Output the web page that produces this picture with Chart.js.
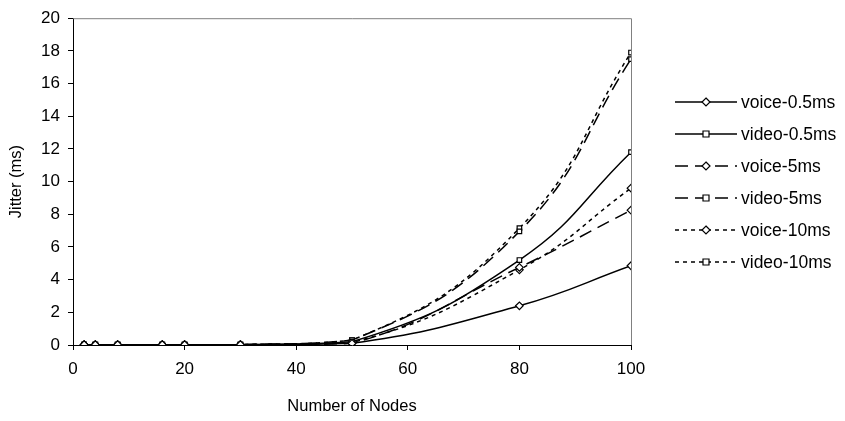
<!DOCTYPE html>
<html>
<head>
<meta charset="utf-8">
<script src="https://cdn.jsdelivr.net/npm/chart.js@4/dist/chart.umd.min.js"></script>
<style>
  html, body { margin: 0; padding: 0; background: #fff; }
  #wrap { width: 845px; height: 421px; }
</style>
</head>
<body>
<div id="wrap"><canvas id="c"></canvas></div>
<script>
// ── data ──────────────────────────────────────────────────────────────
const nodes     = [2, 4, 8, 16, 20, 30, 50, 80, 100];
const voice05   = [0.02, 0.02, 0.02, 0.02, 0.02, 0.02, 0.1, 2.4, 4.85];
const video05   = [0.02, 0.02, 0.02, 0.02, 0.02, 0.02, 0.2, 5.2, 11.8];
const voice5    = [0.02, 0.02, 0.02, 0.02, 0.02, 0.02, 0.1, 4.75, 8.25];
const video5    = [0.02, 0.02, 0.02, 0.02, 0.02, 0.02, 0.3, 6.95, 17.5];
const voice10   = [0.02, 0.02, 0.02, 0.02, 0.02, 0.02, 0.15, 4.6, 9.6];
const video10   = [0.02, 0.02, 0.02, 0.02, 0.02, 0.02, 0.3, 7.15, 17.9];
const names     = ['voice-0.5ms', 'video-0.5ms', 'voice-5ms', 'video-5ms', 'voice-10ms', 'video-10ms'];

const FONT = 'Liberation Sans, Arial, sans-serif';
const dashes = { solid: [], dash: [13, 7], dot: [4, 4] };

const series = [
  { name: names[0], vals: voice05, dash: dashes.solid, pt: 'rectRot' },
  { name: names[1], vals: video05, dash: dashes.solid, pt: 'rect' },
  { name: names[2], vals: voice5,  dash: dashes.dash,  pt: 'rectRot' },
  { name: names[3], vals: video5,  dash: dashes.dash,  pt: 'rect' },
  { name: names[4], vals: voice10, dash: dashes.dot,   pt: 'rectRot' },
  { name: names[5], vals: video10, dash: dashes.dot,   pt: 'rect' },
];

const datasets = series.map(s => ({
  label: s.name,
  data: nodes.map((x, i) => ({ x, y: s.vals[i] })),
  borderColor: '#000',
  borderWidth: 1.5,
  borderDash: s.dash,
  tension: 0.45,
  pointStyle: s.pt,
  pointRadius: s.pt === 'rect' ? 3.2 : 3.8,
  pointBackgroundColor: '#fff',
  pointBorderColor: '#000',
  pointBorderWidth: 1.2,
  fill: false,
}));

// frame (top + right, gray) and hand-drawn legend
const framePlugin = {
  id: 'frame',
  beforeDatasetsDraw(chart) {
    const { ctx, chartArea: a } = chart;
    ctx.save();
    ctx.strokeStyle = '#808080';
    ctx.lineWidth = 1;
    ctx.beginPath();
    ctx.moveTo(a.left, a.top + 0.5);
    ctx.lineTo(a.right + 0.5, a.top + 0.5);
    ctx.lineTo(a.right + 0.5, a.bottom);
    ctx.stroke();
    ctx.restore();
  },
  afterDraw(chart) {
    const ctx = chart.ctx;
    ctx.save();
    series.forEach((s, i) => {
      const y = 102 + i * 32;
      const x0 = 675, x1 = 737, xm = 706;
      ctx.strokeStyle = '#000';
      ctx.lineWidth = 1.5;
      ctx.setLineDash(s.dash);
      ctx.beginPath();
      ctx.moveTo(x0, y);
      ctx.lineTo(x1, y);
      ctx.stroke();
      ctx.setLineDash([]);
      ctx.lineWidth = 1.2;
      ctx.fillStyle = '#fff';
      ctx.beginPath();
      if (s.pt === 'rect') {
        ctx.rect(xm - 3, y - 3, 6, 6);
      } else {
        ctx.moveTo(xm, y - 4); ctx.lineTo(xm + 4, y); ctx.lineTo(xm, y + 4); ctx.lineTo(xm - 4, y); ctx.closePath();
      }
      ctx.fill();
      ctx.stroke();
      ctx.fillStyle = '#000';
      ctx.font = '17.5px ' + FONT;
      ctx.textBaseline = 'middle';
      ctx.fillText(s.name, 741, y + 1);
    });
    ctx.restore();
  }
};

new Chart(document.getElementById('c'), {
  type: 'line',
  data: { datasets },
  plugins: [framePlugin],
  options: {
    responsive: true, maintainAspectRatio: false, animation: false,
    layout: { padding: { left: 0, top: 17, right: 214, bottom: 0 } },
    plugins: { legend: { display: false }, tooltip: { enabled: false } },
    scales: {
      x: {
        type: 'linear', min: 0, max: 100,
        afterFit: sc => { sc.height = 76; },
        ticks: { stepSize: 20, color: '#000', font: { family: FONT, size: 17 }, padding: 9, maxRotation: 0 },
        grid: { drawOnChartArea: false, color: '#000', tickLength: 5 },
        border: { color: '#000', width: 1 },
        title: { display: true, text: 'Number of Nodes', color: '#000', font: { family: FONT, size: 16.5 }, padding: 5 },
      },
      y: {
        min: 0, max: 20,
        afterFit: sc => { sc.width = 73; },
        ticks: { stepSize: 2, color: '#000', font: { family: FONT, size: 17 }, padding: 8 },
        grid: { drawOnChartArea: false, color: '#000', tickLength: 5 },
        border: { color: '#000', width: 1 },
        title: { display: true, text: 'Jitter (ms)', color: '#000', font: { family: FONT, size: 16.5 }, padding: 7 },
      }
    }
  }
});
</script>
</body>
</html>
